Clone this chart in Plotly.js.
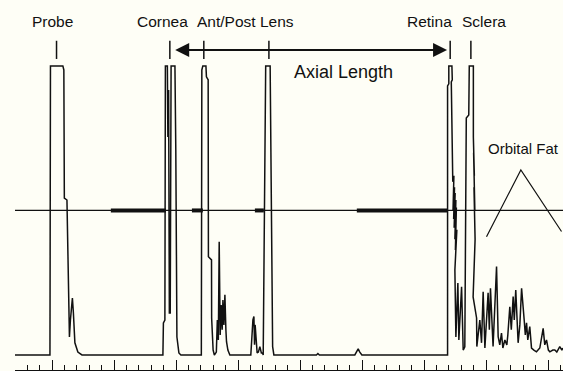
<!DOCTYPE html>
<html>
<head>
<meta charset="utf-8">
<script src="https://cdn.plot.ly/plotly-3.0.1.min.js"></script>
<style>html,body{margin:0;padding:0;background:#fefef6;}#chart{width:563px;height:371px;}</style>
</head>
<body>
<div id="chart"></div>
<script>
// A-scan echo trace: depth (scale units) vs echo amplitude (% of full scale)
const echoDepth = [2.0, 4.82, 4.86, 5.86, 5.94, 5.98, 6.19, 6.27, 6.35, 6.39, 6.47, 6.55, 6.63, 6.71, 6.75, 6.83, 7.07, 7.40,
  13.93, 13.97, 14.09, 14.13, 14.29, 14.33, 14.39, 14.45, 14.52, 14.56, 14.59, 14.90, 14.97, 15.06, 15.14, 15.22, 15.38,
  17.03, 17.07, 17.15, 17.40, 17.44, 17.58, 17.60, 17.85, 17.86, 17.98, 18.08, 18.24, 18.32, 18.40, 18.47, 18.55, 18.63, 18.71, 18.77, 18.85, 18.93, 19.01, 19.06, 19.17, 19.33,
  21.02, 21.11, 21.19, 21.27, 21.32, 21.37, 21.43, 21.53, 21.63, 21.75, 21.87, 21.97,
  22.02, 22.11, 22.22, 22.58, 22.68, 22.76, 22.78, 22.88,
  26.31, 26.43, 26.55,
  29.41, 29.57, 29.68, 29.81, 29.98,
  36.89, 36.89, 36.99, 36.99, 37.24, 37.27, 37.19, 37.31, 37.40, 37.33, 37.45, 37.38, 37.50, 37.42, 37.56, 37.48, 37.60, 37.52, 37.64, 37.48, 37.56, 37.72, 37.80, 38.02, 38.15, 38.28,
  38.40, 38.60, 38.64, 38.97, 38.97, 39.05, 38.99, 39.09, 39.02, 39.11, 39.09, 38.95, 39.23, 39.25, 39.49, 39.63, 39.76, 39.90, 40.16, 40.26, 40.35, 40.56, 40.84, 40.97,
  41.10, 41.24, 41.35, 41.51, 41.67, 41.75, 41.91, 42.03, 42.18, 42.27, 42.39, 42.58, 42.72, 42.86, 43.07, 43.16, 43.26, 43.36, 43.52, 43.66,
  43.85, 44.06, 44.33, 44.60, 44.73, 44.87, 45.02, 45.14, 45.38, 45.54, 45.70, 45.94, 46.11, 46.19];
const echoAmp = [0, 0, 100, 100, 98.6, 54.3, 53.6, 35.6, 22.5, 6.2, 12.1, 18.0, 19.7, 14.5, 8.7, 4.2, 1.0, 0,
  0, 11.1, 12.1, 100, 100, 75.4, 91.7, 14.5, 14.5, 94.5, 100, 100, 70.9, 6.2, 3.5, 0.7, 0,
  0, 98.6, 100, 100, 96.2, 95.2, 34.0, 32.9, 12.8, 1.7, 0, 1.0, 12.1, 5.2, 39.2, 6.9, 17.3, 8.7, 19.0, 10.4, 20.8, 8.7, 4.6, 1.7, 0,
  0, 6.9, 12.1, 13.3, 3.5, 10.4, 5.2, 0.7, 1.0, 2.9, 0.7, 0.7,
  0, 53.6, 100, 100, 34.0, 19.0, 2.9, 0,
  0, 0.5, 0,
  0, 1.0, 2.1, 1.0, 0,
  0, 93.1, 93.8, 100, 100, 95.2, 94.5, 59.9, 62.0, 50.0, 58.0, 47.0, 56.0, 44.0, 53.6, 40.0, 51.0, 36.3, 43.3, 29.4, 6.2, 24.9, 5.2, 23.6, 1.7, 2.8,
  82.0, 83.0, 100, 100, 75.4, 62.0, 70.0, 50.0, 58.0, 40.0, 36.3, 20.1, 12.8, 2.9, 12.1, 4.2, 21.9, 2.4, 21.5, 8.7, 23.1, 2.9, 30.6, 6.3,
  3.5, 7.6, 2.4, 5.2, 3.5, 6.9, 16.7, 8.7, 20.2, 12.1, 22.5, 4.2, 10.4, 23.1, 12.1, 6.9, 11.1, 5.2, 9.8, 2.4,
  1.7, 1.1, 2.4, 9.2, 3.5, 5.2, 1.7, 1.1, 1.7, 1.7, 1.0, 2.9, 1.7, 2.4];

// gate (threshold) line and the measuring gates on it
const gateLevel = 50;
const gateRange = [2.0, 46.2];
const gateStart = [9.73, 16.27, 21.35, 29.57];
const gateEnd   = [14.17, 17.15, 22.07, 36.91];

// structure labels and their marker positions
const labelText  = ['Probe', 'Cornea', 'Ant/Post Lens', 'Retina', 'Sclera'];
const labelDepth = [4.99, 13.90, 20.62, 35.46, 39.81];
const markerDepth = [5.35, 14.49, 17.23, 22.48, 37.10, 38.77];
const labelLevel = 115.3;
const markerLow = 102.4, markerHigh = 108.7;

// axial length arrow
const axialSpan = [14.8, 36.85];
const axialLevel = 105.5;
const axialText = 'Axial Length';
const axialTextPos = [28.52, 97.9];

// orbital fat indicator
const fatText = 'Orbital Fat';
const fatTextPos = [43.0, 71.3];
const fatDepth = [40.03, 42.80, 46.08];
const fatAmp = [40.9, 64.0, 42.7];

const ink = '#111111';
const bg = '#fefef6';
const sans = 'Liberation Sans, Arial, sans-serif';

const gx = [], gy = [];
gateStart.forEach((s, i) => { gx.push(s, gateEnd[i], null); gy.push(gateLevel, gateLevel, null); });
const mx = [], my = [];
markerDepth.forEach(d => { mx.push(d, d, null); my.push(markerLow, markerHigh, null); });

const traces = [
  {x: gateRange, y: [gateLevel, gateLevel], mode: 'lines', line: {color: ink, width: 1.3}, hoverinfo: 'skip'},
  {x: gx, y: gy, mode: 'lines', line: {color: ink, width: 4}, hoverinfo: 'skip'},
  {x: echoDepth, y: echoAmp, mode: 'lines', line: {color: ink, width: 1.5}, hoverinfo: 'skip'},
  {x: mx, y: my, mode: 'lines', line: {color: ink, width: 1.5}, hoverinfo: 'skip', cliponaxis: false},
  {x: fatDepth, y: fatAmp, mode: 'lines', line: {color: ink, width: 1.2}, hoverinfo: 'skip'}
];

const annotations = labelText.map((t, i) => ({
  x: labelDepth[i], y: labelLevel, xref: 'x', yref: 'y', text: t, showarrow: false,
  xanchor: 'center', yanchor: 'middle', font: {family: sans, size: 15.5, color: ink}
}));
annotations.push({
  x: axialSpan[1], y: axialLevel, ax: axialSpan[0], ay: axialLevel,
  xref: 'x', yref: 'y', axref: 'x', ayref: 'y', text: '', showarrow: true,
  arrowhead: 2, startarrowhead: 2, arrowside: 'end+start', arrowsize: 1.4, startarrowsize: 1.4,
  arrowwidth: 2, arrowcolor: ink
});
annotations.push({
  x: axialTextPos[0], y: axialTextPos[1], xref: 'x', yref: 'y', text: axialText, showarrow: false,
  xanchor: 'center', yanchor: 'middle', font: {family: sans, size: 18, color: ink}
});
annotations.push({
  x: fatTextPos[0], y: fatTextPos[1], xref: 'x', yref: 'y', text: fatText, showarrow: false,
  xanchor: 'center', yanchor: 'middle', font: {family: sans, size: 15, color: ink}
});

const layout = {
  width: 563, height: 371,
  margin: {l: 15, r: 0, t: 0, b: 1, pad: 0},
  paper_bgcolor: bg, plot_bgcolor: bg,
  showlegend: false,
  xaxis: {
    range: [2.0, 46.2], showgrid: false, zeroline: false, showticklabels: false,
    showline: true, linecolor: ink, linewidth: 1.2,
    ticks: 'inside', tick0: 0, dtick: 5, ticklen: 10, tickwidth: 1.2, tickcolor: ink,
    minor: {ticks: 'inside', dtick: 1, ticklen: 5, tickwidth: 1, tickcolor: ink, showgrid: false}
  },
  yaxis: {range: [-5.2, 122.8], visible: false, showgrid: false, zeroline: false},
  annotations: annotations
};

Plotly.newPlot('chart', traces, layout, {staticPlot: true, displayModeBar: false});
</script>
</body>
</html>
